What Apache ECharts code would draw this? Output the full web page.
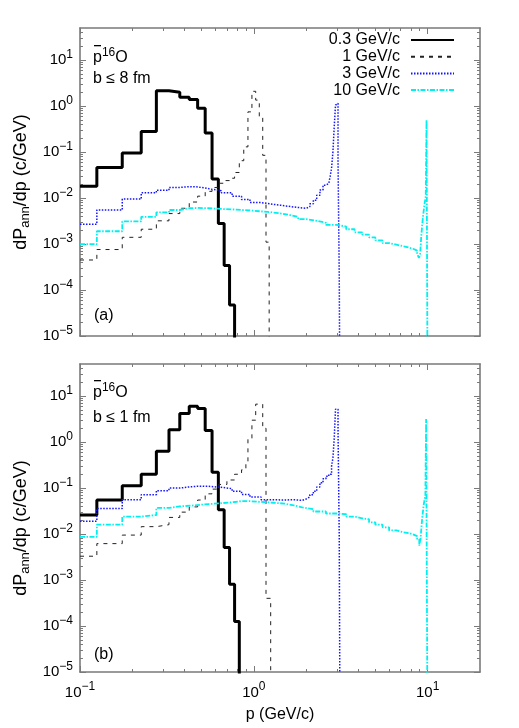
<!DOCTYPE html>
<html>
<head>
<meta charset="utf-8">
<script src="https://cdn.jsdelivr.net/npm/echarts@6/dist/echarts.min.js"></script>
<style>
  html, body { margin: 0; padding: 0; background: #fff; }
  #chart { width: 519px; height: 728px; }
</style>
</head>
<body>
<div id="chart"></div>
<script>
// axis ranges and ticks
const xRange = [0.1, 20]
const yRange = [1e-5, 50]
const xMajor = [0.1, 1, 10]
const xMinor = [0.2, 0.3, 0.4, 0.5, 0.6, 0.7, 0.8, 0.9, 2, 3, 4, 5, 6, 7, 8, 9]
const yMajor = [1e-5, 1e-4, 1e-3, 1e-2, 1e-1, 1, 10]
const yMinor = [
  2e-5, 3e-5, 4e-5, 5e-5, 6e-5, 7e-5, 8e-5, 9e-5,
  2e-4, 3e-4, 4e-4, 5e-4, 6e-4, 7e-4, 8e-4, 9e-4,
  2e-3, 3e-3, 4e-3, 5e-3, 6e-3, 7e-3, 8e-3, 9e-3,
  0.02, 0.03, 0.04, 0.05, 0.06, 0.07, 0.08, 0.09,
  0.2, 0.3, 0.4, 0.5, 0.6, 0.7, 0.8, 0.9,
  2, 3, 4, 5, 6, 7, 8, 9, 20, 30, 40
]

const seriesNames = ['0.3 GeV/c', '1 GeV/c', '3 GeV/c', '10 GeV/c']

// histogram bins: [left edge p (GeV/c), dP/dp], last point closes the last bin
// (a) b <= 8 fm
const p03Top = [
  [0.1, 0.018], [0.125, 0.046], [0.175, 0.095], [0.225, 0.28], [0.275, 2.15], [0.325, 2.0],
  [0.375, 1.55], [0.425, 1.4], [0.475, 0.9], [0.525, 0.26], [0.575, 0.026], [0.625, 0.0028],
  [0.675, 0.00034], [0.725, 0.000047], [0.775, 1e-9]
]
const p1Top = [
  [0.1, 0.00045], [0.125, 0.00076], [0.175, 0.0014], [0.225, 0.0021], [0.275, 0.0032], [0.325, 0.0046],
  [0.375, 0.006], [0.425, 0.0082], [0.475, 0.011], [0.525, 0.014], [0.575, 0.017], [0.625, 0.021],
  [0.675, 0.024], [0.725, 0.027], [0.775, 0.036], [0.825, 0.065], [0.875, 0.13], [0.925, 0.75],
  [0.975, 2.1], [1.025, 1.35], [1.075, 0.6], [1.125, 0.085], [1.175, 0.0011], [1.225, 1e-9]
]
const p3Top = [
  [0.1, 0.0027], [0.125, 0.0055], [0.175, 0.0095], [0.225, 0.013], [0.275, 0.0148], [0.325, 0.017],
  [0.375, 0.0177], [0.425, 0.0175], [0.475, 0.0165], [0.525, 0.0155], [0.575, 0.0145], [0.65, 0.013],
  [0.75, 0.011], [0.85, 0.0093], [0.95, 0.008], [1.1, 0.0073], [1.3, 0.0068], [1.5, 0.0064],
  [1.7, 0.0061], [1.9, 0.006], [2.0, 0.0065], [2.1, 0.0075], [2.2, 0.009], [2.3, 0.0115],
  [2.4, 0.015], [2.5, 0.019], [2.6, 0.021], [2.7, 0.023], [2.75, 0.03], [2.8, 0.045],
  [2.85, 0.1], [2.9, 0.35], [2.95, 1.05], [3.0, 1.15], [3.05, 0.065], [3.1, 0.0002], [3.15, 1e-9]
]
const p10Top = [
  [0.1, 0.001], [0.125, 0.0019], [0.175, 0.0031], [0.225, 0.0039], [0.275, 0.0049], [0.325, 0.0055],
  [0.375, 0.006], [0.425, 0.0061], [0.475, 0.006], [0.55, 0.0058], [0.65, 0.0056], [0.8, 0.0053],
  [1.0, 0.005], [1.2, 0.0047], [1.4, 0.0043], [1.6, 0.0039], [1.8, 0.0035], [2.0, 0.0032],
  [2.3, 0.0029], [2.6, 0.0026], [3.0, 0.0024], [3.4, 0.0021], [3.8, 0.0018], [4.2, 0.0016],
  [4.6, 0.0014], [5.0, 0.0012], [5.5, 0.00105], [6.0, 0.00097], [6.6, 0.0009], [7.2, 0.00084],
  [7.8, 0.00078], [8.3, 0.00072], [8.7, 0.00062], [8.9, 0.0005], [9.05, 0.0006], [9.2, 0.0016],
  [9.4, 0.004], [9.6, 0.0075], [9.75, 0.011], [9.85, 0.5], [10.05, 1e-9]
]
// (b) b <= 1 fm
const p03Bot = [
  [0.1, 0.026], [0.125, 0.055], [0.175, 0.112], [0.225, 0.2], [0.275, 0.63], [0.325, 1.86],
  [0.375, 4.2], [0.425, 6.0], [0.475, 5.4], [0.525, 1.8], [0.575, 0.22], [0.625, 0.034],
  [0.675, 0.0051], [0.725, 0.00081], [0.775, 0.000125], [0.825, 1e-9]
]
const p1Bot = [
  [0.1, 0.0033], [0.125, 0.0062], [0.175, 0.0095], [0.225, 0.0145], [0.275, 0.016], [0.325, 0.023],
  [0.375, 0.03], [0.425, 0.039], [0.475, 0.055], [0.525, 0.075], [0.575, 0.095], [0.625, 0.12],
  [0.7, 0.15], [0.775, 0.2], [0.85, 0.25], [0.9, 0.36], [0.925, 1.2], [0.975, 3.0],
  [1.025, 6.7], [1.125, 2.0], [1.175, 0.0004], [1.25, 1e-9]
]
const p3Bot = [
  [0.1, 0.019], [0.125, 0.036], [0.175, 0.056], [0.225, 0.072], [0.275, 0.088], [0.325, 0.1],
  [0.375, 0.106], [0.425, 0.11], [0.475, 0.109], [0.55, 0.104], [0.65, 0.097], [0.75, 0.085],
  [0.85, 0.073], [0.95, 0.064], [1.1, 0.056], [1.3, 0.055], [1.5, 0.056], [1.7, 0.054],
  [1.9, 0.058], [2.0, 0.064], [2.1, 0.072], [2.2, 0.085], [2.3, 0.105], [2.4, 0.13],
  [2.5, 0.16], [2.6, 0.18], [2.7, 0.2], [2.8, 0.3], [2.85, 0.45], [2.9, 1.2],
  [2.95, 5.2], [3.05, 1.8], [3.1, 0.0085], [3.15, 1e-9]
]
const p10Bot = [
  [0.1, 0.0087], [0.125, 0.016], [0.175, 0.024], [0.225, 0.026], [0.275, 0.037], [0.325, 0.04],
  [0.375, 0.042], [0.45, 0.045], [0.55, 0.047], [0.65, 0.049], [0.75, 0.052], [0.85, 0.052],
  [0.95, 0.05], [1.1, 0.048], [1.3, 0.046], [1.5, 0.042], [1.7, 0.038], [1.9, 0.035],
  [2.2, 0.031], [2.6, 0.028], [3.0, 0.027], [3.4, 0.024], [3.8, 0.022], [4.2, 0.021],
  [4.6, 0.018], [5.0, 0.016], [5.5, 0.014], [6.0, 0.012], [6.6, 0.011], [7.2, 0.0105],
  [7.8, 0.0097], [8.3, 0.009], [8.7, 0.0075], [8.95, 0.0056], [9.1, 0.008], [9.3, 0.022],
  [9.5, 0.045], [9.7, 0.07], [9.8, 3.2], [10.05, 1e-9]
]

const FRAME = '#7a7a7a'
const FONT = '"Liberation Sans", Arial, sans-serif'

// 10^n labels with a real minus sign in the exponent
const expLabel = v => {
  const e = Math.round(Math.log10(v))
  return '{b|10}{s|' + (e < 0 ? '\u2212' + (-e) : e) + '}'
}
const labelRich = {
  b: { fontSize: 15, fontFamily: FONT, color: '#000' },
  s: { fontSize: 12, fontFamily: FONT, color: '#000', padding: [0, 0, 11, 0] }
}

function tickAxis(type, grid, pos, values, len, showLine) {
  const range = type === 'x' ? xRange : yRange
  return {
    type: 'log', logBase: 10, min: range[0], max: range[1], gridIndex: grid, position: pos,
    splitLine: { show: false },
    axisLine: { show: showLine, lineStyle: { color: FRAME, width: 1.6 } },
    axisTick: { show: true, inside: true, length: len, customValues: values, lineStyle: { color: FRAME, width: 1 } },
    axisLabel: { show: false }
  }
}

function xAxesFor(grid, withLabels) {
  const main = tickAxis('x', grid, 'bottom', xMajor, 6, true)
  if (withLabels) {
    main.axisLabel = { show: true, customValues: xMajor, margin: 9, formatter: expLabel, rich: labelRich }
    main.name = 'p (GeV/c)'
    main.nameLocation = 'middle'
    main.nameGap = 35
    main.nameTextStyle = { fontSize: 16, fontFamily: FONT, color: '#000' }
  }
  return [
    main,
    tickAxis('x', grid, 'bottom', xMinor, 3, false),
    tickAxis('x', grid, 'top', xMajor, 6, true),
    tickAxis('x', grid, 'top', xMinor, 3, false)
  ]
}

// shiftDown moves the rotated axis title down along the axis
function yAxesFor(grid, shiftDown) {
  const main = tickAxis('y', grid, 'left', yMajor, 6, true)
  main.axisLabel = { show: true, customValues: yMajor, margin: 7, formatter: expLabel, rich: labelRich }
  main.name = '{n|dP}{u|ann}{n|/dp (c/GeV)}'
  main.nameLocation = 'middle'
  main.nameGap = 44
  main.nameTextStyle = {
    padding: [0, shiftDown * 2, 0, 0],
    rich: {
      n: { fontSize: 18, fontFamily: FONT, color: '#000' },
      u: { fontSize: 13, fontFamily: FONT, color: '#000', padding: [9, 0, 0, 0] }
    }
  }
  return [
    main,
    tickAxis('y', grid, 'left', yMinor, 3, false),
    tickAxis('y', grid, 'right', yMajor, 6, true),
    tickAxis('y', grid, 'right', yMinor, 3, false)
  ]
}

const styles = [
  { color: '#000000', width: 3, type: 'solid' },
  { color: '#222222', width: 1, type: [4, 5] },
  { color: '#1414ff', width: 1.5, type: [1.5, 1.5] },
  { color: '#00f0f0', width: 1.8, type: [5, 1.5, 1.5, 1.5] }
]

function histSeries(name, data, idx, axisIdx) {
  return {
    name: name, type: 'line', step: 'end', data: data, symbol: 'none', clip: true,
    xAxisIndex: axisIdx, yAxisIndex: axisIdx,
    lineStyle: styles[idx], itemStyle: { color: styles[idx].color },
    emphasis: { disabled: true }, silent: true
  }
}

const txt = { fontSize: 16, fontFamily: FONT, color: '#000', fontWeight: 'normal' }
const nucRich = {
  p: txt,
  s: { fontSize: 12, fontFamily: FONT, color: '#000', fontWeight: 'normal', padding: [0, 0, 9, 0] }
}

const option = {
  animation: false,
  backgroundColor: '#fff',
  grid: [
    { left: 80, top: 28, width: 400, height: 308, containLabel: false, outerBoundsMode: 'none' },
    { left: 80, top: 364, width: 400, height: 308, containLabel: false, outerBoundsMode: 'none' }
  ],
  title: [
    { text: '{p|p}{s|16}{p|O}', left: 93, top: 47, padding: 0, textStyle: { fontWeight: 'normal', rich: nucRich } },
    { text: 'b \u2264 8 fm', left: 93, top: 71, padding: 0, textStyle: txt },
    { text: '(a)', left: 94, top: 308, padding: 0, textStyle: txt },
    { text: '{p|p}{s|16}{p|O}', left: 93, top: 382, padding: 0, textStyle: { fontWeight: 'normal', rich: nucRich } },
    { text: 'b \u2264 1 fm', left: 93, top: 410, padding: 0, textStyle: txt },
    { text: '(b)', left: 94, top: 647, padding: 0, textStyle: txt }
  ],
  // bar over the p of the antiproton symbol
  graphic: [
    { type: 'rect', left: 94, top: 45, shape: { width: 7, height: 1.3 }, style: { fill: '#000' } },
    { type: 'rect', left: 94, top: 380, shape: { width: 7, height: 1.3 }, style: { fill: '#000' } }
  ],
  legend: {
    data: seriesNames, orient: 'vertical', right: 59, top: 27, align: 'right',
    itemWidth: 43, itemHeight: 12, itemGap: 0.7, selectedMode: false,
    itemStyle: { opacity: 0 },
    textStyle: { fontSize: 16, lineHeight: 16, fontFamily: FONT, color: '#000', padding: [0, 6, 0, 0] }
  },
  xAxis: [...xAxesFor(0, false), ...xAxesFor(1, true)],
  yAxis: [...yAxesFor(0, 0), ...yAxesFor(1, 10)],
  series: [
    histSeries(seriesNames[0], p03Top, 0, 0),
    histSeries(seriesNames[1], p1Top, 1, 0),
    histSeries(seriesNames[2], p3Top, 2, 0),
    histSeries(seriesNames[3], p10Top, 3, 0),
    histSeries(seriesNames[0], p03Bot, 0, 4),
    histSeries(seriesNames[1], p1Bot, 1, 4),
    histSeries(seriesNames[2], p3Bot, 2, 4),
    histSeries(seriesNames[3], p10Bot, 3, 4)
  ]
}

const chart = echarts.init(document.getElementById('chart'))
chart.setOption(option)
</script>
</body>
</html>
